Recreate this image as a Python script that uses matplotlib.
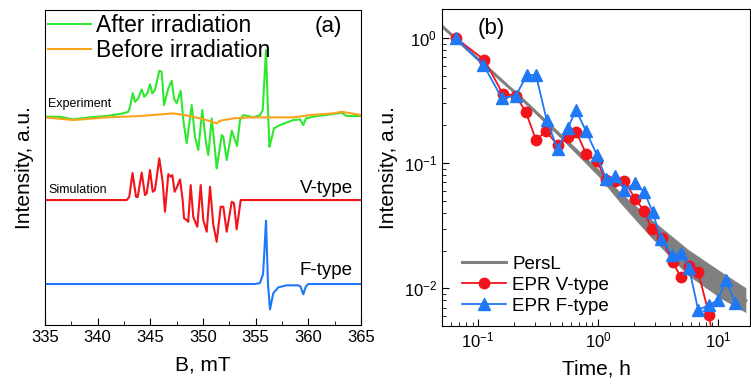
import matplotlib
matplotlib.use("Agg")
import matplotlib.pyplot as plt
from matplotlib.ticker import MultipleLocator, LogLocator, NullFormatter

plt.rcParams['font.family'] = ['Liberation Sans', 'DejaVu Sans']
plt.rcParams['mathtext.fontset'] = 'custom'
plt.rcParams['mathtext.rm'] = 'Liberation Sans'

# ---- (a) EPR spectra: field (mT) and signal relative to its own baseline (a.u.)
exp_after_B = [335.00, 336.42, 337.69, 339.27, 340.86, 342.43, 342.91, 343.07, 343.33,
               343.54, 343.86, 344.18, 344.43, 344.71, 344.97, 345.19, 345.44, 345.85,
               346.08, 346.30, 346.71, 347.03, 347.25, 347.50, 347.88, 348.13, 348.45,
               348.93, 349.24, 349.55, 349.93, 350.29, 350.50, 350.83, 351.23, 351.30,
               351.78, 351.93, 352.25, 352.73, 353.04, 353.23, 353.51, 353.83, 354.78,
               355.41, 355.67, 355.98, 356.10, 356.30, 356.36, 356.74, 357.31, 358.57,
               359.21, 359.52, 359.78, 360.80, 362.37, 363.17, 363.64, 365.00]
exp_after_I = [0.3, 0.3, -2.3, -0.3, 1.0, 3.7, 5.3, 10.0, 24.0,
               15.3, 18.7, 27.7, 20.3, 23.7, 32.7, 23.7, 27.0, 46.3,
               45.3, 12.0, 28.7, 36.3, 18.7, 13.7, 26.3, -3.0, -26.3,
               12.0, -19.7, -33.0, 7.0, -26.3, -38.0, -1.3, -43.0, -51.3,
               -18.0, -19.7, -43.0, -13.7, -23.0, -29.0, -3.0, 2.0, -0.3,
               2.0, 7.0, 67.0, 27.0, -29.7, -28.0, -11.3, -8.0, -3.0,
               -2.3, -8.0, -1.3, 1.0, 3.0, 4.3, 1.0, 1.0]

exp_before_B = [335.00, 337.69, 340.86, 344.02, 347.18, 348.77, 350.35, 351.30, 351.61,
                352.88, 354.46, 356.05, 358.57, 360.16, 362.37, 363.17, 365.00]
exp_before_I = [-0.3, -3.0, -0.3, 1.0, 3.7, 1.0, -3.0, -6.3, -3.7,
                -1.3, -0.3, -0.3, -0.3, 2.0, 3.7, 5.3, 2.0]

sim_v_B = [335.00, 342.76, 343.00, 343.31, 343.64, 343.80, 344.18, 344.49, 344.66,
           344.97, 345.23, 345.44, 345.85, 346.17, 346.39, 346.71, 346.93, 347.09,
           347.31, 347.53, 347.82, 348.07, 348.20, 348.45, 348.60, 348.83, 349.08,
           349.27, 349.46, 349.78, 350.03, 350.35, 350.67, 350.98, 351.30, 351.68,
           351.93, 352.25, 352.73, 352.94, 353.20, 353.58, 365.00]
sim_v_I = [0, 0, 3.0, 27.0, 3.3, 3.0, 27.5, 5.0, 6.7,
           30.0, 8.3, 10.0, 41.7, 18.3, -11.7, 26.0, 23.3, 25.0,
           8.3, 13.0, 20.7, 0.0, -18.3, -20.0, -21.7, 15.0, -17.0,
           -22.0, -26.7, 15.0, -20.0, -31.7, 13.3, -25.0, -41.7, -6.7,
           -6.7, -31.7, -1.7, -3.0, -29.3, 0, 0]

sim_f_B = [335.00, 354.94, 355.41, 355.70, 355.84, 355.98, 356.17, 356.36, 356.67,
           357.15, 357.95, 359.05, 359.26, 359.52, 359.75, 360.00, 365.00]
sim_f_I = [0, 0, 1.0, 10.0, 35.0, 63.3, 0.0, -25.3, -9.3,
           -3.3, -1.3, -1.3, -2.5, -10.3, -2.7, 0, 0]

# ---- (b) decay kinetics
persl_t = [0.051, 0.106, 0.228, 0.492, 1.0, 1.55, 2.77, 5.62, 10.6, 17.1]
persl_I = [1.22, 0.643, 0.331, 0.164, 0.0847, 0.0525, 0.0302, 0.0161, 0.0106, 0.0080]
persl_lo = [1.20, 0.630, 0.322, 0.157, 0.0790, 0.0475, 0.0255, 0.0127, 0.0083, 0.0064]
persl_hi = [1.24, 0.656, 0.340, 0.171, 0.0905, 0.0580, 0.0358, 0.0205, 0.0136, 0.0101]

v_t = [0.065, 0.113, 0.161, 0.207, 0.251, 0.304, 0.369, 0.461, 0.566, 0.66, 0.80,
       0.975, 1.17, 1.39, 1.66, 2.04, 2.43, 2.82, 3.41, 4.19, 4.92, 5.76, 6.85,
       8.46, 9.94]
v_I = [1.0, 0.667, 0.356, 0.346, 0.254, 0.153, 0.180, 0.139, 0.162, 0.176, 0.118,
       0.104, 0.073, 0.0717, 0.072, 0.052, 0.0413, 0.0296, 0.0251, 0.0162, 0.0123,
       0.0150, 0.0134, 0.0061, 0.002]

f_t = [0.065, 0.111, 0.158, 0.207, 0.255, 0.304, 0.373, 0.461, 0.559, 0.656, 0.794,
       0.98, 1.17, 1.39, 1.66, 2.04, 2.43, 2.85, 3.35, 4.14, 4.92, 5.76, 6.85,
       8.46, 9.94, 11.7, 13.9]
f_I = [1.0, 0.608, 0.33, 0.346, 0.506, 0.506, 0.221, 0.129, 0.19, 0.265, 0.18,
       0.116, 0.0743, 0.079, 0.0615, 0.0688, 0.059, 0.0408, 0.0249, 0.0184, 0.0192,
       0.0144, 0.0067, 0.0074, 0.0080, 0.0117, 0.0076]

green = '#2ee82e'
orange = '#fba31c'
red = '#f2131b'
blue = '#1f78f5'
gray = '#808080'

fig = plt.figure(figsize=(7.51, 3.85), dpi=100)
ax1 = fig.add_axes([0.0599, 0.1558, 0.4208, 0.818])
ax2 = fig.add_axes([0.5885, 0.1532, 0.4101, 0.8234])

# panel (a): stacked spectra
off_exp, off_v, off_f = 208, 125, 41
ax1.plot(exp_after_B, [y + off_exp for y in exp_after_I], color=green, lw=1.5,
         label='After irradiation')
ax1.plot(exp_before_B, [y + off_exp for y in exp_before_I], color=orange, lw=1.5,
         label='Before irradiation')
ax1.plot(sim_v_B, [y + off_v for y in sim_v_I], color=red, lw=1.5)
ax1.plot(sim_f_B, [y + off_f for y in sim_f_I], color=blue, lw=1.5)

ax1.set_xlim(335, 365)
ax1.set_ylim(0, 315)
ax1.xaxis.set_major_locator(MultipleLocator(5))
ax1.xaxis.set_minor_locator(MultipleLocator(2.5))
ax1.set_yticks([])
ax1.tick_params(axis='x', which='both', direction='in', labelsize=12)
ax1.tick_params(axis='x', which='major', length=5)
ax1.tick_params(axis='x', which='minor', length=3)
ax1.set_xlabel('B, mT', fontsize=15, labelpad=8)
ax1.set_ylabel('Intensity, a.u.', fontsize=15, labelpad=8)

ax1.text(0.896, 0.949, '(a)', transform=ax1.transAxes, fontsize=16, ha='center', va='center')
ax1.text(335.3, off_exp + 13, 'Experiment', fontsize=9, va='center')
ax1.text(335.3, off_v + 10, 'Simulation', fontsize=9, va='center')
ax1.text(364.2, off_v + 12, 'V-type', fontsize=13.5, ha='right', va='center')
ax1.text(364.2, off_f + 14, 'F-type', fontsize=13.5, ha='right', va='center')
ax1.legend(loc='upper left', frameon=False, fontsize=16.5, handlelength=1.85,
           handletextpad=0.22, labelspacing=0.12, borderaxespad=0.05, borderpad=0.1)

# panel (b): log-log decay
ax2.fill_between(persl_t, persl_lo, persl_hi, color=gray, lw=0, zorder=1)
ax2.plot(persl_t, persl_I, color=gray, lw=2.2, label='PersL', zorder=1)
ax2.plot(v_t, v_I, color=red, lw=1.3, marker='o', ms=7.5, label='EPR V-type', zorder=2)
ax2.plot(f_t, f_I, color=blue, lw=1.3, marker='^', ms=8, label='EPR F-type', zorder=3)

ax2.set_xscale('log')
ax2.set_yscale('log')
ax2.set_xlim(0.05, 18.5)
ax2.set_ylim(0.005, 1.7)
for axis in (ax2.xaxis, ax2.yaxis):
    axis.set_major_locator(LogLocator(base=10))
    axis.set_minor_locator(LogLocator(base=10, subs=range(2, 10)))
    axis.set_minor_formatter(NullFormatter())
ax2.tick_params(which='both', direction='in', labelsize=12)
ax2.tick_params(which='major', length=5)
ax2.tick_params(which='minor', length=3)
ax2.set_xlabel('Time, h', fontsize=15, labelpad=6)
ax2.set_ylabel('Intensity, a.u.', fontsize=15, labelpad=0)
ax2.yaxis.set_label_coords(-0.143, 0.5)
ax2.text(0.159, 0.94, '(b)', transform=ax2.transAxes, fontsize=16, ha='center', va='center')
ax2.legend(loc='lower left', frameon=False, fontsize=13.5, handlelength=2.3,
           handletextpad=0.35, labelspacing=0.2, borderaxespad=0.3, borderpad=0.3,
           bbox_to_anchor=(0.03, 0.0))

fig.savefig('out.png', dpi=100)
